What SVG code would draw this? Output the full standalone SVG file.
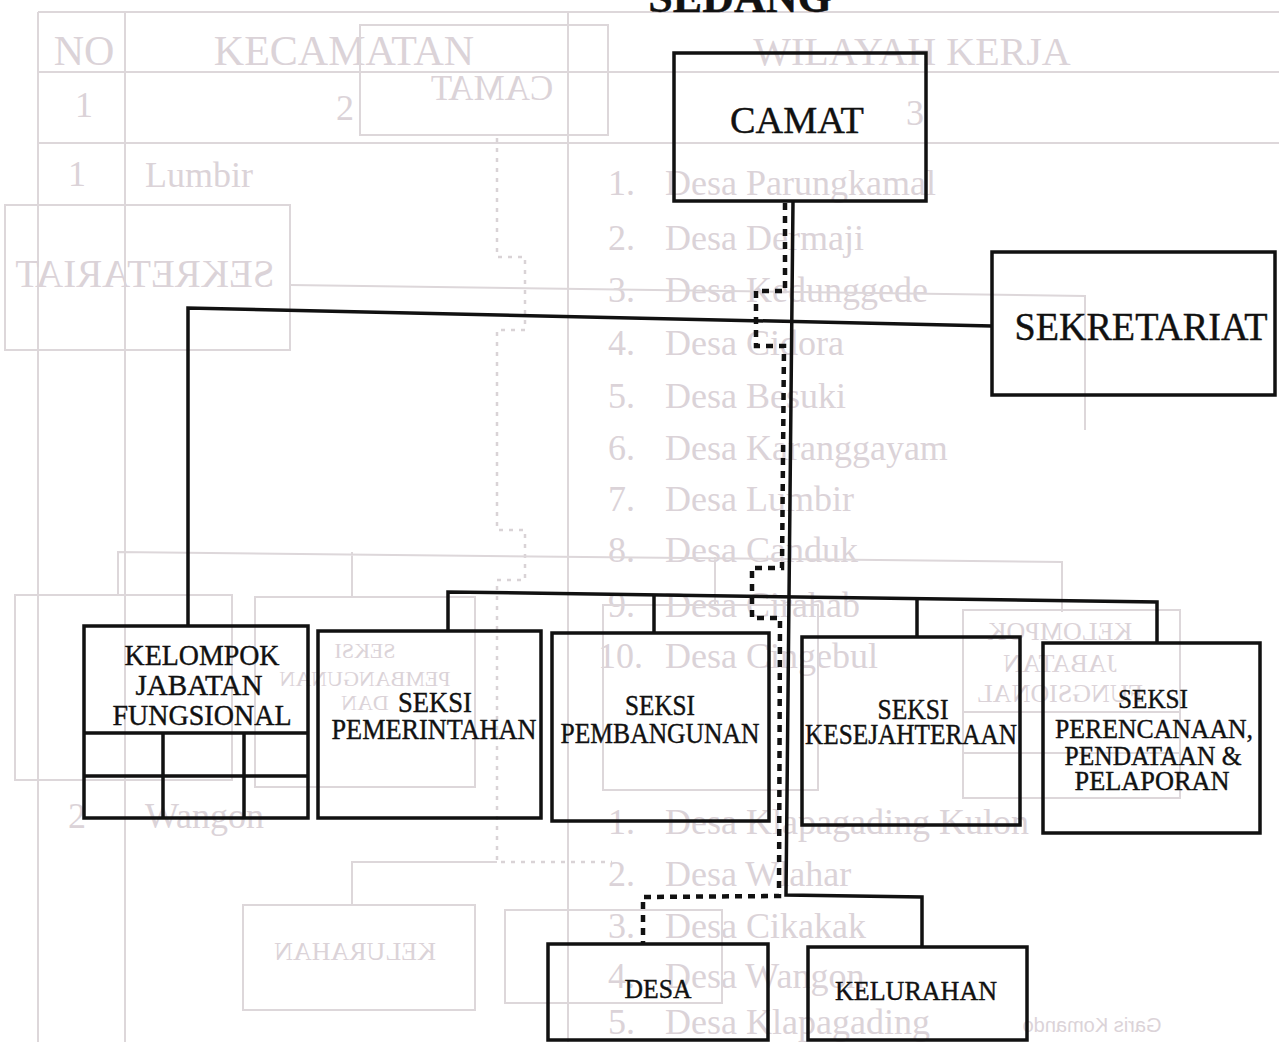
<svg xmlns="http://www.w3.org/2000/svg" width="1279" height="1042" viewBox="0 0 1279 1042">
<defs>
<style>
.bg{fill:#ffffff}
.fl{fill:none;stroke:#ddd7da;stroke-width:2}
.fd{fill:none;stroke:#d9d3d6;stroke-width:2.5;stroke-dasharray:4 6}
.ft{fill:#dbd3d8;font-family:"Liberation Serif","Times New Roman",serif}
.box{fill:none;stroke:#111;stroke-width:3.5}
.ln{fill:none;stroke:#111;stroke-width:3.5}
.dot{fill:none;stroke:#111;stroke-width:4.5;stroke-dasharray:7 6}
.t{fill:#111;stroke:#111;stroke-width:0.4;font-family:"Liberation Serif","Times New Roman",serif;text-anchor:middle}
</style>
</defs>
<rect class="bg" x="0" y="0" width="1279" height="1042"/>

<g id="show-through">
  <path class="fl" d="M38 12 V1042 M125 12 V1042 M568 12 V1042 M38 12 H1279 M38 72 H1279 M38 143 H1279"/>
  <text class="ft" x="84" y="65" font-size="42" text-anchor="middle">NO</text>
  <text class="ft" x="344" y="65" font-size="42" text-anchor="middle">KECAMATAN</text>
  <text class="ft" x="912" y="65" font-size="40" text-anchor="middle">WILAYAH KERJA</text>
  <text class="ft" x="75" y="117" font-size="36">1</text>
  <text class="ft" x="336" y="120" font-size="36">2</text>
  <text class="ft" x="906" y="125" font-size="36">3</text>
  <text class="ft" x="68" y="186" font-size="36">1</text>
  <text class="ft" x="145" y="187" font-size="36">Lumbir</text>
  <g class="ft" font-size="36">
    <text y="195"><tspan x="608">1.</tspan><tspan x="665">Desa Parungkamal</tspan></text>
    <text y="250"><tspan x="608">2.</tspan><tspan x="665">Desa Dermaji</tspan></text>
    <text y="302"><tspan x="608">3.</tspan><tspan x="665">Desa Kedunggede</tspan></text>
    <text y="355"><tspan x="608">4.</tspan><tspan x="665">Desa Cidora</tspan></text>
    <text y="408"><tspan x="608">5.</tspan><tspan x="665">Desa Besuki</tspan></text>
    <text y="460"><tspan x="608">6.</tspan><tspan x="665">Desa Karanggayam</tspan></text>
    <text y="511"><tspan x="608">7.</tspan><tspan x="665">Desa Lumbir</tspan></text>
    <text y="562"><tspan x="608">8.</tspan><tspan x="665">Desa Canduk</tspan></text>
    <text y="617"><tspan x="608">9.</tspan><tspan x="665">Desa Cirahab</tspan></text>
    <text y="668"><tspan x="598">10.</tspan><tspan x="665">Desa Cingebul</tspan></text>
    <text x="68" y="828">2</text>
    <text x="145" y="828">Wangon</text>
    <text y="834"><tspan x="608">1.</tspan><tspan x="665">Desa Klapagading Kulon</tspan></text>
    <text y="886"><tspan x="608">2.</tspan><tspan x="665">Desa Wlahar</tspan></text>
    <text y="938"><tspan x="608">3.</tspan><tspan x="665">Desa Cikakak</tspan></text>
    <text y="988"><tspan x="608">4.</tspan><tspan x="665">Desa Wangon</tspan></text>
    <text y="1034"><tspan x="608">5.</tspan><tspan x="665">Desa Klapagading</tspan></text>
  </g>
  <rect class="fl" x="360" y="25" width="248" height="110"/>
  <rect class="fl" x="5" y="205" width="285" height="145"/>
  <path class="fl" d="M290 285 L1085 296 V430"/>
  <path class="fd" d="M497 138 V257 H525 V330 H497 V530 H525 V580 H497 V862 H612"/>
  <path class="fl" d="M118 595 V552 L1062 562 V612 M352 552 V597 M715 557 V605"/>
  <rect class="fl" x="15" y="595" width="217" height="185"/>
  <rect class="fl" x="255" y="597" width="220" height="190"/>
  <rect class="fl" x="603" y="605" width="215" height="185"/>
  <rect class="fl" x="963" y="610" width="217" height="188"/>
  <path class="fl" d="M963 712 H1180 M963 753 H1180"/>
  <path class="fl" d="M352 905 V862 H497"/>
  <rect class="fl" x="243" y="905" width="232" height="105"/>
  <rect class="fl" x="505" y="910" width="217" height="93"/>
  <g class="ft" text-anchor="middle">
    <text transform="translate(492 100) scale(-1 1)" font-size="35">CAMAT</text>
    <text transform="translate(145 287) scale(-1 1)" font-size="39">SEKRETARIAT</text>
    <text transform="translate(365 658) scale(-1 1)" font-size="22">SEKSI</text>
    <text transform="translate(365 686) scale(-1 1)" font-size="22">PEMBANGUNAN</text>
    <text transform="translate(365 710) scale(-1 1)" font-size="22">DAN</text>
    <text transform="translate(1060 640) scale(-1 1)" font-size="26">KELOMPOK</text>
    <text transform="translate(1060 672) scale(-1 1)" font-size="26">JABATAN</text>
    <text transform="translate(1060 702) scale(-1 1)" font-size="26">FUNGSIONAL</text>
    <text transform="translate(355 960) scale(-1 1)" font-size="26">KELURAHAN</text>
    <text transform="translate(1092 1032) scale(-1 1)" font-size="20" font-family="Liberation Sans, sans-serif">Garis Komando</text>
  </g>
</g>

<text class="t" x="740" y="12" font-size="44" font-weight="bold">SEDANG</text>

<g id="connectors">
  <polyline class="ln" points="793,201 786,895 922,897 922,947"/>
  <polyline class="ln" points="188,626 188,308 992,326"/>
  <polyline class="ln" points="448,632 448,592 1157,602 1157,643"/>
  <line class="ln" x1="654" y1="595" x2="654" y2="633"/>
  <line class="ln" x1="917" y1="599" x2="917" y2="637"/>
  <polyline class="dot" points="785,203 785,291 756,291 756,346 784,346 782,568 752,568 752,618 780,618 779,896 643,897 643,944"/>
</g>

<g id="camat">
  <rect class="box" x="674" y="53" width="252" height="148"/>
  <text class="t" x="797" y="133" font-size="38" textLength="134" lengthAdjust="spacingAndGlyphs">CAMAT</text>
</g>
<g id="sekretariat">
  <rect class="box" x="992" y="252" width="283" height="143"/>
  <text class="t" x="1141" y="340" font-size="39" textLength="253" lengthAdjust="spacingAndGlyphs">SEKRETARIAT</text>
</g>
<g id="kelompok-jabatan-fungsional">
  <rect class="box" x="84" y="626" width="224" height="192"/>
  <path class="ln" d="M84 733 H308 M84 776 H308 M163 733 V818 M244 733 V818"/>
  <text class="t" x="202" y="665" font-size="30" textLength="155" lengthAdjust="spacingAndGlyphs">KELOMPOK</text>
  <text class="t" x="199" y="695" font-size="30" textLength="127" lengthAdjust="spacingAndGlyphs">JABATAN</text>
  <text class="t" x="202" y="725" font-size="30" textLength="179" lengthAdjust="spacingAndGlyphs">FUNGSIONAL</text>
</g>
<g id="seksi-pemerintahan">
  <rect class="box" x="318" y="631" width="223" height="187"/>
  <text class="t" x="435" y="712" font-size="29" textLength="74" lengthAdjust="spacingAndGlyphs">SEKSI</text>
  <text class="t" x="434" y="739" font-size="29" textLength="205" lengthAdjust="spacingAndGlyphs">PEMERINTAHAN</text>
</g>
<g id="seksi-pembangunan">
  <rect class="box" x="552" y="633" width="217" height="188"/>
  <text class="t" x="660" y="715" font-size="29" textLength="70" lengthAdjust="spacingAndGlyphs">SEKSI</text>
  <text class="t" x="660" y="743" font-size="29" textLength="199" lengthAdjust="spacingAndGlyphs">PEMBANGUNAN</text>
</g>
<g id="seksi-kesejahteraan">
  <rect class="box" x="802" y="637" width="218" height="188"/>
  <text class="t" x="913" y="719" font-size="29" textLength="71" lengthAdjust="spacingAndGlyphs">SEKSI</text>
  <text class="t" x="911" y="744" font-size="29" textLength="212" lengthAdjust="spacingAndGlyphs">KESEJAHTERAAN</text>
</g>
<g id="seksi-perencanaan">
  <rect class="box" x="1043" y="643" width="217" height="190"/>
  <text class="t" x="1153" y="708" font-size="28" textLength="70" lengthAdjust="spacingAndGlyphs">SEKSI</text>
  <text class="t" x="1154" y="738" font-size="28" textLength="198" lengthAdjust="spacingAndGlyphs">PERENCANAAN,</text>
  <text class="t" x="1153" y="765" font-size="28" textLength="177" lengthAdjust="spacingAndGlyphs">PENDATAAN &amp;</text>
  <text class="t" x="1152" y="790" font-size="28" textLength="155" lengthAdjust="spacingAndGlyphs">PELAPORAN</text>
</g>
<g id="desa">
  <rect class="box" x="548" y="944" width="220" height="96"/>
  <text class="t" x="658" y="998" font-size="28" textLength="67" lengthAdjust="spacingAndGlyphs">DESA</text>
</g>
<g id="kelurahan">
  <rect class="box" x="808" y="947" width="219" height="93"/>
  <text class="t" x="916" y="1000" font-size="28" textLength="162" lengthAdjust="spacingAndGlyphs">KELURAHAN</text>
</g>
</svg>
